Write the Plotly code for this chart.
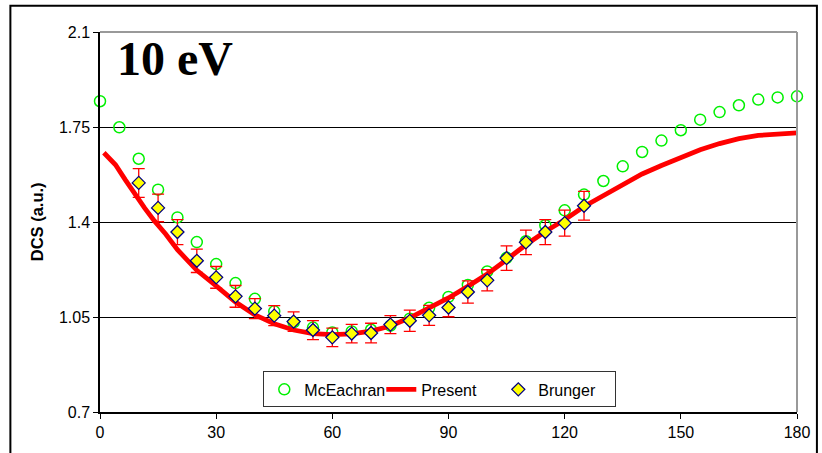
import plotly.graph_objects as go

# McEachran (open green circles)
mc_angle = [0, 5, 10, 15, 20, 25, 30, 35, 40, 45, 50, 55, 60, 65, 70, 75, 80, 85, 90,
            95, 100, 105, 110, 115, 120, 125, 130, 135, 140, 145, 150, 155, 160, 165,
            170, 175, 180]
mc_dcs = [1.845, 1.749, 1.633, 1.519, 1.417, 1.326, 1.245, 1.175, 1.117, 1.071, 1.030,
          1.011, 0.993, 0.997, 1.003, 1.018, 1.044, 1.084, 1.124, 1.168, 1.218, 1.268,
          1.329, 1.388, 1.443, 1.501, 1.551, 1.605, 1.658, 1.700, 1.738, 1.777, 1.805,
          1.830, 1.851, 1.859, 1.863]

# Present (red line)
pr_angle = [1, 4, 6.5, 9, 11.5, 14, 17, 20, 25, 30, 35, 40, 45, 50, 55, 60, 65, 70, 75,
            80, 85, 90, 95, 100, 105, 110, 115, 120, 125, 130, 135, 140, 145, 150, 155,
            160, 165, 170, 175, 180]
pr_dcs = [1.655, 1.611, 1.556, 1.501, 1.452, 1.405, 1.355, 1.298, 1.222, 1.165, 1.105,
          1.058, 1.025, 1.002, 0.989, 0.985, 0.988, 0.998, 1.017, 1.047, 1.083, 1.120,
          1.163, 1.208, 1.261, 1.316, 1.365, 1.408, 1.457, 1.497, 1.538, 1.577, 1.608,
          1.639, 1.666, 1.689, 1.707, 1.719, 1.725, 1.728]

# Brunger (yellow diamonds with error bars)
br_angle = [10, 15, 20, 25, 30, 35, 40, 45, 50, 55, 60, 65, 70, 75, 80, 85, 90, 95, 100,
            105, 110, 115, 120, 125]
br_dcs = [1.544, 1.452, 1.363, 1.257, 1.196, 1.126, 1.081, 1.055, 1.033, 1.002, 0.975,
          0.989, 0.991, 1.022, 1.036, 1.056, 1.085, 1.142, 1.185, 1.267, 1.325, 1.363,
          1.396, 1.460]
br_err = [0.053, 0.051, 0.046, 0.043, 0.040, 0.040, 0.037, 0.037, 0.036, 0.035, 0.034,
          0.034, 0.036, 0.033, 0.039, 0.037, 0.034, 0.041, 0.039, 0.045, 0.045, 0.046,
          0.048, 0.053]

x_ticks = [0, 30, 60, 90, 120, 150, 180]
y_ticks = [0.7, 1.05, 1.4, 1.75, 2.1]

fig = go.Figure()

fig.add_trace(go.Scatter(
    x=mc_angle, y=mc_dcs, mode="markers", name="McEachran",
    marker=dict(symbol="circle-open", size=11, color="#00F000", line=dict(width=1.5)),
    cliponaxis=False))

fig.add_trace(go.Scatter(
    x=pr_angle, y=pr_dcs, mode="lines", name="Present",
    line=dict(color="#FF0000", width=4.8), cliponaxis=False))

fig.add_trace(go.Scatter(
    x=br_angle, y=br_dcs, mode="markers", name="Brunger",
    marker=dict(symbol="diamond", size=10, color="#FFFF00",
                line=dict(color="#000080", width=1.3)),
    error_y=dict(type="data", array=br_err, visible=True, color="#FF0000",
                 thickness=1.3, width=6),
    cliponaxis=False))

axis_font = dict(family="Arial, Liberation Sans, sans-serif", size=16, color="black")

fig.update_layout(
    width=822, height=453,
    margin=dict(l=100, r=22, t=32, b=41),
    paper_bgcolor="white", plot_bgcolor="white",
    font=axis_font,
    showlegend=True,
    legend=dict(orientation="h", x=(264 - 100) / 700, y=0.012, xanchor="left", yanchor="bottom",
                bgcolor="white", bordercolor="#333333", borderwidth=1,
                font=dict(family="Arial, Liberation Sans, sans-serif", size=16, color="black"),
                entrywidth=72, entrywidthmode="pixels",
                itemwidth=30, tracegroupgap=0),
    xaxis=dict(range=[0, 180], tickvals=x_ticks, ticks="outside", ticklen=5,
               tickcolor="black", showline=True, linecolor="black", linewidth=1.5,
               showgrid=False, zeroline=False, tickfont=axis_font),
    yaxis=dict(range=[0.7, 2.1], tickvals=y_ticks, ticktext=["0.7", "1.05", "1.4", "1.75", "2.1"],
               ticks="outside", ticklen=5, tickcolor="black", showline=True,
               linecolor="black", linewidth=1.5, showgrid=True, gridcolor="black",
               gridwidth=1, zeroline=False, tickfont=axis_font),
)

# plot-area top and right border (grey)
fig.add_shape(type="line", xref="paper", yref="paper", x0=0, x1=1, y0=1, y1=1,
              line=dict(color="#999999", width=2))
fig.add_shape(type="line", xref="paper", yref="paper", x0=1, x1=1, y0=0, y1=1,
              line=dict(color="#999999", width=2))
# outer chart frame
fig.add_shape(type="rect", xref="paper", yref="paper",
              x0=(10 - 100) / 700, x1=(820 - 100) / 700,
              y0=(412.3 - 470) / 380, y1=(412.3 - 6) / 380,
              line=dict(color="black", width=2), layer="above")

# y-axis title
fig.add_annotation(text="<b>DCS (a.u.)</b>", xref="paper", yref="paper",
                   x=(37 - 100) / 700, y=0.5, textangle=-90, showarrow=False,
                   xanchor="center", yanchor="middle",
                   font=dict(family="Arial, Liberation Sans, sans-serif", size=16.5, color="black"))

# panel label
fig.add_annotation(text="<b>10 eV</b>", xref="paper", yref="paper",
                   x=(115 - 100) / 700, y=(412.3 - 59) / 380, showarrow=False,
                   xanchor="left", yanchor="middle",
                   font=dict(family="Times New Roman, Liberation Serif, serif", size=48,
                             color="black"))

fig.write_html("out.html")
